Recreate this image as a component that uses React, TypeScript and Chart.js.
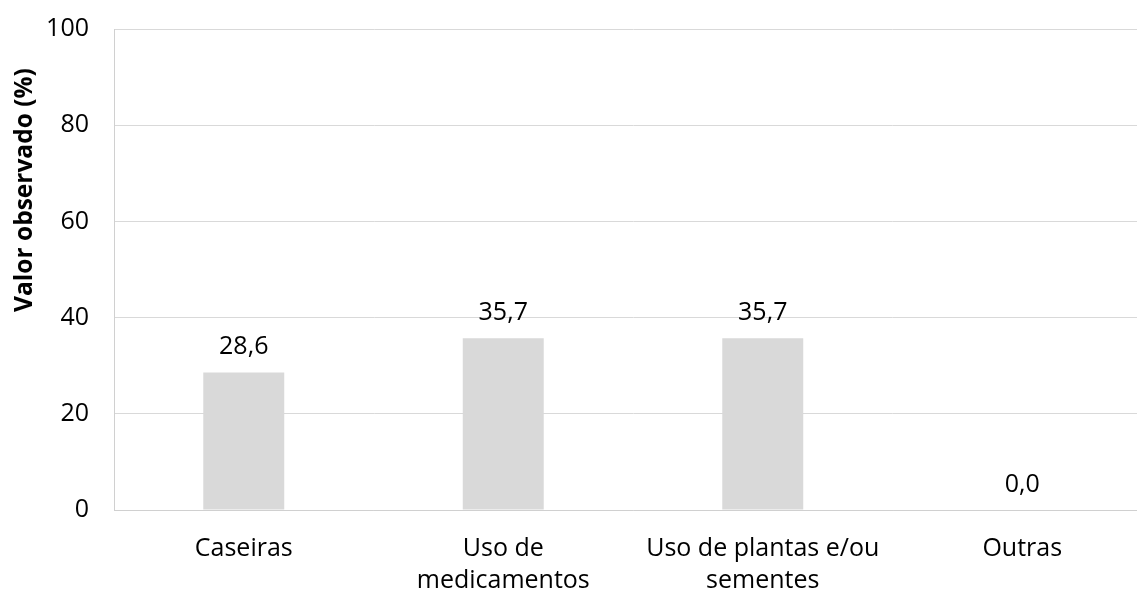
import React, { useEffect, useRef } from "react";
import { Chart, registerables } from "chart.js";

Chart.register(...registerables);

const categories: string[][] = [
  ["Caseiras"],
  ["Uso de", "medicamentos"],
  ["Uso de plantas e/ou", "sementes"],
  ["Outras"],
];
const values: number[] = [28.6, 35.7, 35.7, 0.0];
const yTicks: number[] = [0, 20, 40, 60, 80, 100];
const yTitle = "Valor observado (%)";

const FONT = "'Open Sans', sans-serif";

const labelPlugin = {
  id: "valueLabels",
  afterDatasetsDraw(chart: any) {
    const ctx = chart.ctx;
    const meta = chart.getDatasetMeta(0);
    ctx.save();
    ctx.font = `25px ${FONT}`;
    ctx.fillStyle = "#000";
    ctx.textAlign = "center";
    ctx.textBaseline = "alphabetic";
    meta.data.forEach((bar: any, i: number) => {
      const txt = values[i].toFixed(1).replace(".", ",");
      ctx.fillText(txt, bar.x, bar.y - 18);
    });
    // y axis title
    ctx.font = `bold 24.5px ${FONT}`;
    ctx.translate(32, 190);
    ctx.rotate(-Math.PI / 2);
    ctx.textAlign = "center";
    ctx.textBaseline = "alphabetic";
    ctx.fillText(yTitle, 0, 0);
    ctx.restore();
  },
};

export default function App() {
  const ref = useRef<HTMLCanvasElement>(null);
  useEffect(() => {
    document.body.style.margin = "0";
    document.body.style.overflow = "hidden";
    const chart = new Chart(ref.current!, {
      type: "bar",
      data: {
        labels: categories,
        datasets: [
          {
            data: values,
            backgroundColor: "#d9d9d9",
            borderWidth: 0,
            categoryPercentage: 1,
            barPercentage: 0.312,
          },
        ],
      },
      options: {
        animation: false,
        responsive: false,
        maintainAspectRatio: false,
        layout: { padding: { top: 29, right: 8, left: 0, bottom: 0 } },
        plugins: { legend: { display: false }, tooltip: { enabled: false } },
        scales: {
          y: {
            min: 0,
            max: 100,
            afterBuildTicks: (scale: any) => {
              scale.ticks = yTicks.map((v) => ({ value: v }));
            },
            afterFit: (scale: any) => {
              scale.width = 114;
            },
            ticks: {
              font: { family: FONT, size: 25 },
              color: "#000",
              padding: 0,
            },
            grid: {
              color: "#d9d9d9",
              lineWidth: 1,
              drawTicks: true,
              tickLength: 25,
              tickColor: "rgba(0,0,0,0)",
            },
            border: { color: "#d0d0d0", width: 1 },
            title: { display: false },
          },
          x: {
            afterFit: (scale: any) => {
              scale.height = 86;
            },
            ticks: {
              font: { family: FONT, size: 25, lineHeight: 1.28 },
              color: "#000",
              padding: 23,
              maxRotation: 0,
              autoSkip: false,
            },
            grid: { display: false, drawTicks: false },
            border: { color: "#d0d0d0", width: 1 },
          },
        },
      },
      plugins: [labelPlugin],
    });
    return () => chart.destroy();
  }, []);
  return (
    <div style={{ width: 1137, height: 596, overflow: "hidden", position: "relative" }}>
      <canvas ref={ref} width={1160} height={596} style={{ display: "block" }} />
    </div>
  );
}
